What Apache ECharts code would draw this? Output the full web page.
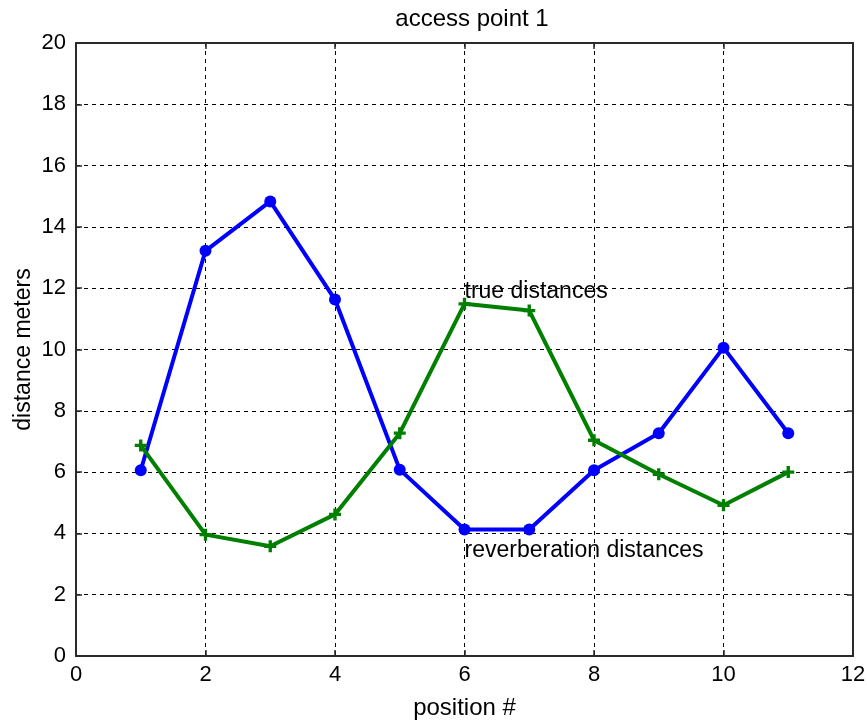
<!DOCTYPE html>
<html>
<head>
<meta charset="utf-8">
<script src="https://cdn.jsdelivr.net/npm/echarts@6/dist/echarts.min.js"></script>
<style>html,body{margin:0;padding:0;background:#fff;}#chart{width:867px;height:721px;}</style>
</head>
<body>
<div id="chart"></div>
<script>
var positions = [1, 2, 3, 4, 5, 6, 7, 8, 9, 10, 11];
var reverberationDistances = [6.06, 13.22, 14.83, 11.63, 6.08, 4.13, 4.13, 6.06, 7.27, 10.06, 7.27];
var trueDistances = [6.87, 3.96, 3.58, 4.62, 7.27, 11.49, 11.27, 7.04, 5.93, 4.92, 6.0];
var xTicks = [0, 2, 4, 6, 8, 10, 12];
var yTicks = [0, 2, 4, 6, 8, 10, 12, 14, 16, 18, 20];
var annotations = [
  {text: 'true distances', coord: [6, 11.9]},
  {text: 'reverberation distances', coord: [6, 3.45]}
];

function pairs(xs, ys) { return xs.map(function (x, i) { return [x, ys[i]]; }); }

var FONT = 'Liberation Sans, Arial, sans-serif';
var axisColor = '#2a2a2a';
var plus = 'path://M3.6,0H6.4V3.6H10V6.4H6.4V10H3.6V6.4H0V3.6H3.6Z';
var gridDash = {show: true, showMinLine: false, showMaxLine: false, lineStyle: {color: '#000', type: [4, 4], width: 1}};

var chart = echarts.init(document.getElementById('chart'), null, {renderer: 'canvas'});
var baseX = {
  type: 'value', min: xTicks[0], max: xTicks[xTicks.length - 1], interval: 2,
  axisLine: {show: true, onZero: false, lineStyle: {color: axisColor, width: 2}},
  axisTick: {show: true, inside: true, length: 6, lineStyle: {color: axisColor, width: 1.5}},
  splitLine: {show: false}
};
var baseY = {
  type: 'value', min: yTicks[0], max: yTicks[yTicks.length - 1], interval: 2,
  axisLine: {show: true, onZero: false, lineStyle: {color: axisColor, width: 2}},
  axisTick: {show: true, inside: true, length: 6, lineStyle: {color: axisColor, width: 1.5}},
  splitLine: {show: false}
};

chart.setOption({
  animation: false,
  backgroundColor: '#fff',
  title: {
    text: 'access point 1', left: 467, top: 2, textAlign: 'center',
    textStyle: {fontFamily: FONT, fontSize: 24, fontWeight: 'normal', color: '#000'}
  },
  grid: {left: 76, top: 43, width: 777, height: 613, containLabel: false, outerBoundsMode: 'none'},
  xAxis: [
    Object.assign({}, baseX, {
      position: 'bottom',
      name: 'position #', nameLocation: 'middle', nameGap: 40, nameMoveOverlap: false,
      nameTextStyle: {fontFamily: FONT, fontSize: 24, color: '#000'},
      axisLabel: {show: true, fontFamily: FONT, fontSize: 22, color: '#000', margin: 8},
      splitLine: gridDash
    }),
    Object.assign({}, baseX, {position: 'top', axisLabel: {show: false}})
  ],
  yAxis: [
    Object.assign({}, baseY, {
      position: 'left',
      name: 'distance meters', nameLocation: 'middle', nameGap: 41, nameRotate: 90, nameMoveOverlap: false,
      nameTextStyle: {fontFamily: FONT, fontSize: 23, color: '#000'},
      axisLabel: {show: true, fontFamily: FONT, fontSize: 22, color: '#000', margin: 10},
      splitLine: gridDash
    }),
    Object.assign({}, baseY, {position: 'right', axisLabel: {show: false}})
  ],
  series: [
    {
      type: 'line', name: 'reverberation', data: pairs(positions, reverberationDistances),
      symbol: 'circle', symbolSize: 12, showAllSymbol: true,
      lineStyle: {color: '#0000ff', width: 4},
      itemStyle: {color: '#0000ff'},
      z: 3
    },
    {
      type: 'line', name: 'true', data: pairs(positions, trueDistances),
      symbol: plus, symbolSize: 12, showAllSymbol: true,
      lineStyle: {color: '#007f00', width: 4},
      itemStyle: {color: '#007f00'},
      z: 4,
      markPoint: {
        symbol: 'circle', symbolSize: 0, silent: true,
        label: {
          show: true, position: 'right', distance: 0, color: '#000',
          fontFamily: FONT, fontSize: 23,
          formatter: function (p) { return p.name; }
        },
        data: annotations.map(function (a) { return {name: a.text, coord: a.coord}; })
      }
    }
  ]
});
</script>
</body>
</html>
